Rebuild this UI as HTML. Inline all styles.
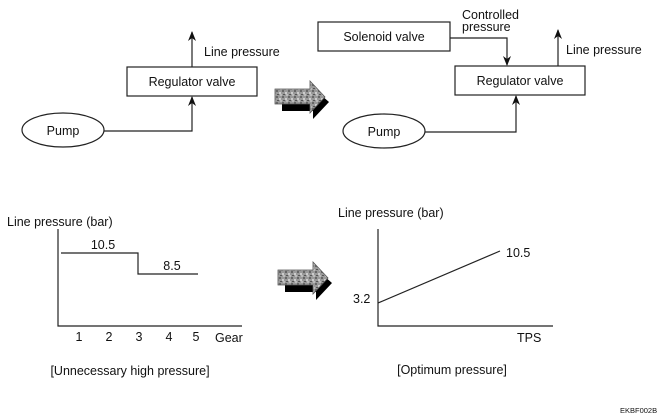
<!DOCTYPE html>
<html><head><meta charset="utf-8"><style>
html,body{margin:0;padding:0;background:#fff}
svg{display:block}
text{font-family:"Liberation Sans",Arial,sans-serif;fill:#111}
</style></head><body>
<svg width="670" height="419" viewBox="0 0 670 419" xmlns="http://www.w3.org/2000/svg">
<defs>
<marker id="ah" markerWidth="10" markerHeight="8" refX="9" refY="4" orient="auto" markerUnits="userSpaceOnUse">
<path d="M0,0 L10,4 L0,8 L3,4 Z" fill="#111"/>
</marker>
<pattern id="noise" width="6" height="6" patternUnits="userSpaceOnUse">
<rect width="6" height="6" fill="#999"/>
<rect x="0" y="0" width="2" height="2" fill="#666"/>
<rect x="3" y="2" width="2" height="2" fill="#ccc"/>
<rect x="1" y="4" width="2" height="1" fill="#555"/>
<rect x="4" y="4" width="2" height="2" fill="#bbb"/>
</pattern>
<g id="bigarrow">
<polygon points="282,96 313,96 313,88 329,102 313,119 313,111 282,111" fill="#000"/>
<polygon points="275,89 310,89 310,81 325,97 310,113 310,104 275,104" fill="url(#noise)" stroke="#555" stroke-width="0.8"/>
</g>
</defs>
<g fill="none" stroke="#222" stroke-width="1.2">
<rect x="127" y="67" width="130" height="29"/>
<ellipse cx="63" cy="130" rx="41" ry="17"/>
<polyline points="104,131 192,131 192,97" marker-end="url(#ah)"/>
<line x1="192" y1="67" x2="192" y2="32" marker-end="url(#ah)"/>
<rect x="318" y="22" width="132" height="29"/>
<rect x="455" y="66" width="130" height="29"/>
<ellipse cx="384" cy="131" rx="41" ry="17"/>
<polyline points="450,38 507,38 507,65" marker-end="url(#ah)"/>
<polyline points="425,132 516,132 516,96" marker-end="url(#ah)"/>
<line x1="558" y1="66" x2="558" y2="30" marker-end="url(#ah)"/>
<polyline points="58,229 58,326 242,326"/>
<polyline points="61,253 138,253 138,274 198,274"/>
<polyline points="378,229 378,326 553,326"/>
<line x1="378" y1="303" x2="500" y2="251"/>
</g>
<use href="#bigarrow"/>
<use href="#bigarrow" transform="translate(3,181)"/>
<g font-size="12.5">
<text x="204" y="56">Line pressure</text>
<text x="192" y="86" text-anchor="middle">Regulator valve</text>
<text x="63" y="135" text-anchor="middle">Pump</text>
<text x="384" y="41" text-anchor="middle">Solenoid valve</text>
<text x="462" y="19">Controlled</text>
<text x="462" y="31">pressure</text>
<text x="566" y="54">Line pressure</text>
<text x="520" y="85" text-anchor="middle">Regulator valve</text>
<text x="384" y="136" text-anchor="middle">Pump</text>
<text x="7" y="226">Line pressure (bar)</text>
<text x="103" y="249" text-anchor="middle">10.5</text>
<text x="172" y="270" text-anchor="middle">8.5</text>
<text x="79" y="341" text-anchor="middle">1</text>
<text x="109" y="341" text-anchor="middle">2</text>
<text x="139" y="341" text-anchor="middle">3</text>
<text x="169" y="341" text-anchor="middle">4</text>
<text x="196" y="341" text-anchor="middle">5</text>
<text x="215" y="342">Gear</text>
<text x="130" y="375" text-anchor="middle">[Unnecessary high pressure]</text>
<text x="338" y="217">Line pressure (bar)</text>
<text x="506" y="257">10.5</text>
<text x="353" y="303">3.2</text>
<text x="517" y="342">TPS</text>
<text x="452" y="374" text-anchor="middle">[Optimum pressure]</text>
</g>
<text x="620" y="413" font-size="7.5">EKBF002B</text>
</svg>
</body></html>
